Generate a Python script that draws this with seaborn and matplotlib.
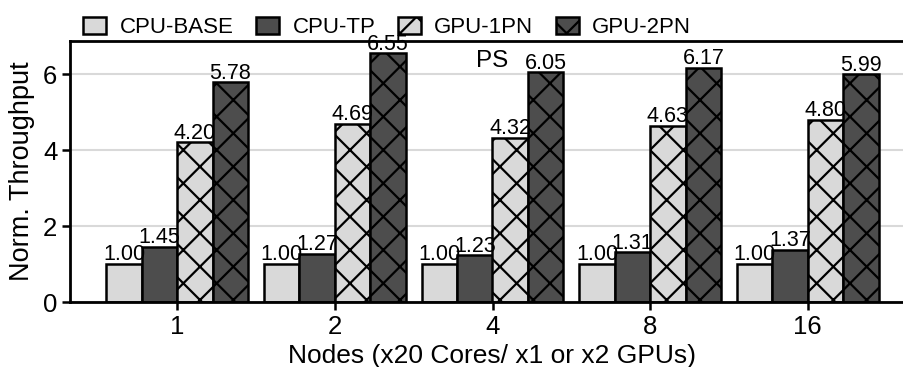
import matplotlib
matplotlib.use("Agg")
import matplotlib.pyplot as plt
import seaborn as sns
import pandas as pd
from matplotlib.patches import Patch

nodes = ["1", "2", "4", "8", "16"]
series = ["CPU-BASE", "CPU-TP", "GPU-1PN", "GPU-2PN"]
cpu_base = [1.00, 1.00, 1.00, 1.00, 1.00]
cpu_tp = [1.45, 1.27, 1.23, 1.31, 1.37]
gpu_1pn = [4.20, 4.69, 4.32, 4.63, 4.80]
gpu_2pn = [5.78, 6.55, 6.05, 6.17, 5.99]

rows = []
for name, vals in zip(series, [cpu_base, cpu_tp, gpu_1pn, gpu_2pn]):
    for n, v in zip(nodes, vals):
        rows.append({"Nodes": n, "Series": name, "Value": v})
df = pd.DataFrame(rows)

sns.set_style("white")
plt.rcParams['font.family'] = ['Liberation Sans', 'DejaVu Sans']
plt.rcParams['text.color'] = 'black'
plt.rcParams['axes.labelcolor'] = 'black'
plt.rcParams['xtick.color'] = 'black'
plt.rcParams['ytick.color'] = 'black'

colors = ["#d9d9d9", "#4d4d4d", "#d9d9d9", "#4d4d4d"]
hatches = ["", "", "x", "x"]
plt.rcParams['hatch.linewidth'] = 1.6

fig = plt.figure(figsize=(9.04, 3.67), dpi=100)
ax = fig.add_axes([70/904, 65/367, 845/904, 261/367])

sns.barplot(data=df, x="Nodes", y="Value", hue="Series", order=nodes,
            hue_order=series, palette=colors, width=0.9, ax=ax,
            edgecolor="black", linewidth=1.8, legend=False, saturation=1)

for cont, h in zip(ax.containers, hatches):
    for bar in cont:
        bar.set_hatch(h)
    ax.bar_label(cont, fmt="%.2f", fontsize=15.5, padding=-1, color="black")

ax.set_ylim(0, 6.87)
ax.set_xlim(-0.68, 4.68)
ax.set_yticks([0, 2, 4, 6])
ax.yaxis.grid(True, color="#d9d9d9", linewidth=1.5)
ax.set_axisbelow(True)
for s in ["left", "bottom", "top"]:
    ax.spines[s].set_linewidth(2)
    ax.spines[s].set_color("black")
ax.spines["right"].set_visible(False)
ax.tick_params(axis="both", direction="out", length=6, width=1.8,
               labelsize=18.5, left=True, bottom=True, color="black",
               labelcolor="black", pad=3)
ax.set_xlabel("Nodes (x20 Cores/ x1 or x2 GPUs)", fontsize=19, labelpad=4,
              color="black")
ax.set_ylabel("Norm. Throughput", fontsize=19.5, labelpad=6, color="black")
ax.text(2.1, 6.18, "PS", fontsize=17.5, ha="right", va="baseline",
        color="black")

handles = [Patch(facecolor=c, edgecolor="black", hatch=h, linewidth=1.8)
           for c, h in zip(colors, hatches)]
fig.legend(handles, series, loc="upper left", bbox_to_anchor=(72/904, 0.985),
           ncol=4, frameon=False, fontsize=16, handlelength=1.05,
           handleheight=0.85, columnspacing=1.0, handletextpad=0.6,
           borderaxespad=0.1, labelcolor="black")

fig.savefig("out.png", dpi=100)
